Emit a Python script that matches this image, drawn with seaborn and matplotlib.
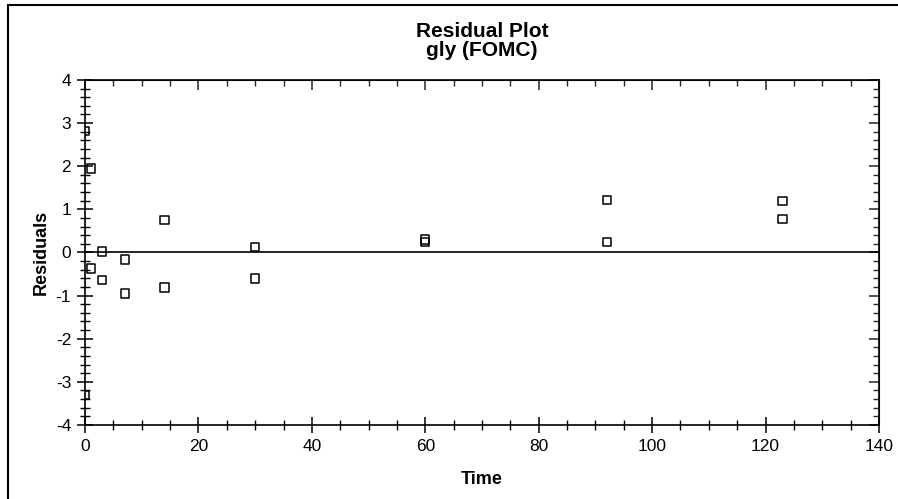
import numpy as np
import pandas as pd
import matplotlib
matplotlib.use("Agg")
import matplotlib.pyplot as plt
from matplotlib.ticker import MultipleLocator
import seaborn as sns

# 残差数据
time = [0, 0, 1, 1, 3, 3, 7, 7, 14, 14, 30, 30, 60, 60, 92, 92, 123, 123]
residuals = [2.81, -3.30, 1.95, -0.37, 0.02, -0.64, -0.16, -0.95,
             0.75, -0.81, 0.12, -0.60, 0.30, 0.24, 1.22, 0.24, 1.19, 0.78]
title_lines = ["Residual Plot", "gly (FOMC)"]
x_label = "Time"
y_label = "Residuals"

df = pd.DataFrame({"Time": time, "Residuals": residuals})

sns.set_style("white")
plt.rcParams["font.family"] = ["Liberation Sans", "DejaVu Sans"]
plt.rcParams["axes.unicode_minus"] = False
plt.rcParams["text.color"] = "black"
plt.rcParams["axes.labelcolor"] = "black"

fig = plt.figure(figsize=(8.98, 4.99), dpi=100)
ax = fig.add_axes([0.0947, 0.1483, 0.8841, 0.6914])

# 零线
ax.axhline(0, color="black", lw=1.2, zorder=1)

sns.scatterplot(data=df, x="Time", y="Residuals", ax=ax, marker="s", s=36,
                facecolor="none", edgecolor="black", linewidth=1.1,
                legend=False, zorder=3)

ax.set_xlim(0, 140)
ax.set_ylim(-4, 4)
ax.xaxis.set_major_locator(MultipleLocator(20))
ax.xaxis.set_minor_locator(MultipleLocator(5))
ax.yaxis.set_major_locator(MultipleLocator(1))
ax.yaxis.set_minor_locator(MultipleLocator(0.2))

for sp in ax.spines.values():
    sp.set_visible(True)
    sp.set_color("black")
    sp.set_linewidth(1.2)

ax.tick_params(which="major", direction="inout", length=12, width=1.1,
               color="black", labelsize=12.5, labelcolor="black", pad=4)
ax.tick_params(which="minor", direction="inout", length=7, width=1.0,
               color="black")
ax.tick_params(bottom=True, left=True, top=False, right=False, which="both")

# 顶部和右侧刻度 (向内)
sec_x = ax.secondary_xaxis("top")
sec_x.xaxis.set_major_locator(MultipleLocator(20))
sec_x.xaxis.set_minor_locator(MultipleLocator(5))
sec_x.tick_params(which="major", direction="in", length=7, width=1.1, labeltop=False)
sec_x.tick_params(which="minor", direction="in", length=4, width=1.0)
sec_y = ax.secondary_yaxis("right")
sec_y.yaxis.set_major_locator(MultipleLocator(1))
sec_y.yaxis.set_minor_locator(MultipleLocator(0.2))
sec_y.tick_params(which="major", direction="in", length=7, width=1.1, labelright=False)
sec_y.tick_params(which="minor", direction="in", length=4, width=1.0)

ax.set_xlabel(x_label, fontsize=13, fontweight="bold", labelpad=12)
ax.set_ylabel(y_label, fontsize=13, fontweight="bold", labelpad=4)
ax.set_title("\n".join(title_lines), fontsize=15, fontweight="bold",
             linespacing=1.02, pad=17, color="black")

# 图框 (左侧和顶部)
fig.add_artist(plt.Line2D([0.0089, 0.0089], [0, 0.99], color="black", lw=1.5,
                          transform=fig.transFigure))
fig.add_artist(plt.Line2D([0.0089, 1.0], [0.99, 0.99], color="black", lw=1.5,
                          transform=fig.transFigure))

fig.savefig("out.png", dpi=100)
